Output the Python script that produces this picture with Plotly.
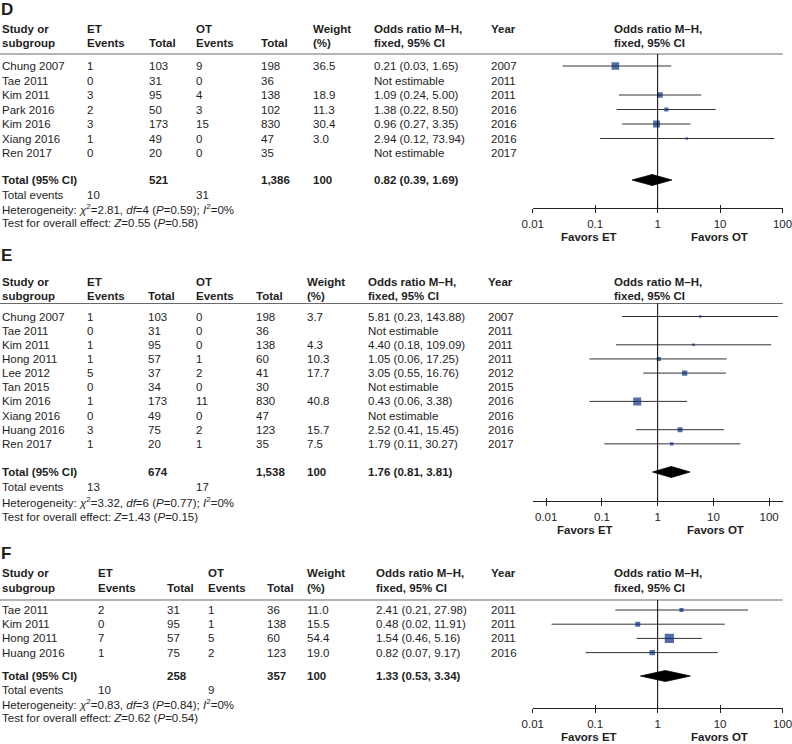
import math
import plotly.graph_objects as go

W, H = 792, 744

# ---------------- Panel D data ----------------
D_study = ["Chung 2007", "Tae 2011", "Kim 2011", "Park 2016", "Kim 2016", "Xiang 2016", "Ren 2017"]
D_et_ev = [1, 0, 3, 2, 3, 1, 0]
D_et_n = [103, 31, 95, 50, 173, 49, 20]
D_ot_ev = [9, 0, 4, 3, 15, 0, 0]
D_ot_n = [198, 36, 138, 102, 830, 47, 35]
D_weight = [36.5, None, 18.9, 11.3, 30.4, 3.0, None]
D_or = [0.21, None, 1.09, 1.38, 0.96, 2.94, None]
D_lo = [0.03, None, 0.24, 0.22, 0.27, 0.12, None]
D_hi = [1.65, None, 5.00, 8.50, 3.35, 73.94, None]
D_year = [2007, 2011, 2011, 2016, 2016, 2016, 2017]
D_total = [521, 1386, 100, 0.82, 0.39, 1.69]      # ET n, OT n, weight, OR, lo, hi
D_events = [10, 31]
D_het = [2.81, 4, 0.59, 0]                         # chi2, df, P, I2
D_effect = [0.55, 0.58]                            # Z, P

# ---------------- Panel E data ----------------
E_study = ["Chung 2007", "Tae 2011", "Kim 2011", "Hong 2011", "Lee 2012", "Tan 2015",
           "Kim 2016", "Xiang 2016", "Huang 2016", "Ren 2017"]
E_et_ev = [1, 0, 1, 1, 5, 0, 1, 0, 3, 1]
E_et_n = [103, 31, 95, 57, 37, 34, 173, 49, 75, 20]
E_ot_ev = [0, 0, 0, 1, 2, 0, 11, 0, 2, 1]
E_ot_n = [198, 36, 138, 60, 41, 30, 830, 47, 123, 35]
E_weight = [3.7, None, 4.3, 10.3, 17.7, None, 40.8, None, 15.7, 7.5]
E_or = [5.81, None, 4.40, 1.05, 3.05, None, 0.43, None, 2.52, 1.79]
E_lo = [0.23, None, 0.18, 0.06, 0.55, None, 0.06, None, 0.41, 0.11]
E_hi = [143.88, None, 109.09, 17.25, 16.76, None, 3.38, None, 15.45, 30.27]
E_year = [2007, 2011, 2011, 2011, 2012, 2015, 2016, 2016, 2016, 2017]
E_total = [674, 1538, 100, 1.76, 0.81, 3.81]
E_events = [13, 17]
E_het = [3.32, 6, 0.77, 0]
E_effect = [1.43, 0.15]

# ---------------- Panel F data ----------------
F_study = ["Tae 2011", "Kim 2011", "Hong 2011", "Huang 2016"]
F_et_ev = [2, 0, 7, 1]
F_et_n = [31, 95, 57, 75]
F_ot_ev = [1, 1, 5, 2]
F_ot_n = [36, 138, 60, 123]
F_weight = [11.0, 15.5, 54.4, 19.0]
F_or = [2.41, 0.48, 1.54, 0.82]
F_lo = [0.21, 0.02, 0.46, 0.07]
F_hi = [27.98, 11.91, 5.16, 9.17]
F_year = [2011, 2011, 2011, 2016]
F_total = [258, 357, 100, 1.33, 0.53, 3.34]
F_events = [10, 9]
F_het = [0.83, 3, 0.84, 0]
F_effect = [0.62, 0.54]

TICK_VALS = [0.01, 0.1, 1, 10, 100]
TICK_TEXT = ["0.01", "0.1", "1", "10", "100"]

FONT = "Liberation Sans, Arial, Helvetica, sans-serif"
FS = 11.5
TXT = "#1e1e1e"
SQ = "#0a2f85"
CI_COL = "#333333"

panels = [
    dict(name="D", study=D_study, et_ev=D_et_ev, et_n=D_et_n, ot_ev=D_ot_ev, ot_n=D_ot_n,
         w=D_weight, orr=D_or, lo=D_lo, hi=D_hi, year=D_year, total=D_total,
         events=D_events, het=D_het, eff=D_effect,
         lay=dict(label=9, h1=29, h2=43, rule=54, row0=66, step=14.5, tot=180, ev=195,
                  het=209, test=223, axis=208, fav=237, fav_x=(589, 719),
                  cols=[1, 86, 148, 195, 260, 312, 373, 490], phdr=613, rng=2.0,
                  xa="x", xb="x4")),
    dict(name="E", study=E_study, et_ev=E_et_ev, et_n=E_et_n, ot_ev=E_ot_ev, ot_n=E_ot_n,
         w=E_weight, orr=E_or, lo=E_lo, hi=E_hi, year=E_year, total=E_total,
         events=E_events, het=E_het, eff=E_effect,
         lay=dict(label=255, h1=282, h2=295.5, rule=303.5, row0=316.5, step=14.15, tot=472,
                  ev=487, het=502, test=517, axis=501, fav=530, fav_x=(585, 715),
                  cols=[1, 86, 147, 195, 255, 306, 367, 487], phdr=613, rng=2.24,
                  xa="x2", xb="x5")),
    dict(name="F", study=F_study, et_ev=F_et_ev, et_n=F_et_n, ot_ev=F_ot_ev, ot_n=F_ot_n,
         w=F_weight, orr=F_or, lo=F_lo, hi=F_hi, year=F_year, total=F_total,
         events=F_events, het=F_het, eff=F_effect,
         lay=dict(label=553, h1=573, h2=588, rule=600, row0=610, step=14.2, tot=676,
                  ev=690, het=704, test=718, axis=708, fav=737, fav_x=(589, 719),
                  cols=[1, 97, 166, 207, 266, 306, 375, 490], phdr=613, rng=2.0,
                  xa="x3", xb="x6")),
]

fig = go.Figure()
ann = []
shapes = []


def text(x, y, s, bold=False, size=FS, xanchor="left"):
    if bold:
        s = f"<b>{s}</b>"
    ann.append(dict(x=x / W, y=y, xref="paper", yref="y", text=s, showarrow=False,
                    xanchor=xanchor, yanchor="middle", borderpad=0,
                    font=dict(family=FONT, size=size, color=TXT)))


def fmt_or(o, l, h):
    if o is None:
        return "Not estimable"
    return f"{o:.2f} ({l:.2f}, {h:.2f})"


AX_X0, AX_X1 = 532.6, 782.7

for p in panels:
    L = p["lay"]
    c = L["cols"]
    text(0, L["label"], p["name"], bold=True, size=17)
    text(c[0], L["h1"], "Study or", bold=True)
    text(c[0], L["h2"], "subgroup", bold=True)
    text(c[1], L["h1"], "ET", bold=True)
    text(c[1], L["h2"], "Events", bold=True)
    text(c[2], L["h2"], "Total", bold=True)
    text(c[3], L["h1"], "OT", bold=True)
    text(c[3], L["h2"], "Events", bold=True)
    text(c[4], L["h2"], "Total", bold=True)
    text(c[5], L["h1"], "Weight", bold=True)
    text(c[5], L["h2"], "(%)", bold=True)
    text(c[6], L["h1"], "Odds ratio M–H,", bold=True)
    text(c[6], L["h2"], "fixed, 95% CI", bold=True)
    text(c[7], L["h1"], "Year", bold=True)
    text(L["phdr"], L["h1"], "Odds ratio M–H,", bold=True)
    text(L["phdr"], L["h2"], "fixed, 95% CI", bold=True)
    shapes.append(dict(type="line", xref="paper", yref="y", x0=0, x1=AX_X1 / W,
                       y0=L["rule"], y1=L["rule"], line=dict(color="#6a6a6a", width=1.2)))

    rows_y = [L["row0"] + i * L["step"] for i in range(len(p["study"]))]
    for i, y in enumerate(rows_y):
        text(c[0], y, p["study"][i])
        text(c[1], y, str(p["et_ev"][i]))
        text(c[2], y, str(p["et_n"][i]))
        text(c[3], y, str(p["ot_ev"][i]))
        text(c[4], y, str(p["ot_n"][i]))
        if p["w"][i] is not None:
            text(c[5], y, f"{p['w'][i]:.1f}")
        text(c[6], y, fmt_or(p["orr"][i], p["lo"][i], p["hi"][i]))
        text(c[7], y, str(p["year"][i]))

    t = p["total"]
    text(c[0], L["tot"], "Total (95% CI)", bold=True)
    text(c[2], L["tot"], f"{t[0]:,}", bold=True)
    text(c[4], L["tot"], f"{t[1]:,}", bold=True)
    text(c[5], L["tot"], f"{t[2]}", bold=True)
    text(c[6], L["tot"], fmt_or(t[3], t[4], t[5]), bold=True)
    text(c[0], L["ev"], "Total events")
    text(c[1], L["ev"], str(p["events"][0]))
    text(c[3], L["ev"], str(p["events"][1]))
    h = p["het"]
    text(c[0], L["het"],
         f"Heterogeneity: <i>χ</i><sup>2</sup>={h[0]:.2f}, <i>df</i>={h[1]} "
         f"(<i>P</i>={h[2]:.2f}); <i>I</i><sup>2</sup>={h[3]}%")
    e = p["eff"]
    text(c[0], L["test"], f"Test for overall effect: <i>Z</i>={e[0]:.2f} (<i>P</i>={e[1]:.2f})")

    text(L["fav_x"][0], L["fav"], "Favors ET", bold=True, xanchor="center")
    text(L["fav_x"][1], L["fav"], "Favors OT", bold=True, xanchor="center")

    cx, cy = [], []
    sx, sy, ss = [], [], []
    for i, y in enumerate(rows_y):
        if p["orr"][i] is None:
            continue
        cx += [p["lo"][i], p["hi"][i], None]
        cy += [y, y, None]
        sx.append(p["orr"][i])
        sy.append(y)
        ss.append(max(2.5, 1.25 * math.sqrt(p["w"][i])))
    fig.add_trace(go.Scatter(x=cx, y=cy, mode="lines", xaxis=L["xa"], yaxis="y",
                             line=dict(color=CI_COL, width=1), hoverinfo="skip",
                             showlegend=False))
    fig.add_trace(go.Scatter(x=sx, y=sy, mode="markers", xaxis=L["xa"], yaxis="y",
                             marker=dict(symbol="square", size=ss, color=SQ,
                                         line=dict(width=0)),
                             hoverinfo="skip", showlegend=False))
    dh = 5.5
    ty = L["tot"]
    fig.add_trace(go.Scatter(x=[t[4], t[3], t[5], t[3], t[4]],
                             y=[ty, ty - dh, ty, ty + dh, ty],
                             mode="lines", fill="toself", fillcolor="black",
                             line=dict(color="black", width=0.8),
                             xaxis=L["xb"], yaxis="y", hoverinfo="skip",
                             showlegend=False))
    shapes.append(dict(type="line", xref=L["xa"], yref="y", x0=1, x1=1,
                       y0=L["rule"], y1=L["axis"], line=dict(color="black", width=1)))


def xaxis_def(rng, pos, main, overlay):
    r = rng + 0.003
    d = dict(type="log", range=[-r, r], domain=[AX_X0 / W, AX_X1 / W],
             anchor="free", position=1 - pos / H, showgrid=False, zeroline=False,
             automargin=False, ticklabeloverflow="allow",
             tickvals=TICK_VALS, ticktext=TICK_TEXT, tickwidth=1, tickcolor="#222",
             tickfont=dict(family=FONT, size=FS, color=TXT), fixedrange=True)
    if main:
        d.update(showline=True, linecolor="#222", linewidth=1, ticks="outside",
                 ticklen=4, showticklabels=True, ticklabelstandoff=1)
    else:
        d.update(showline=False, ticks="inside", ticklen=3, showticklabels=False)
    if overlay:
        d["overlaying"] = "x"
    return d


lay = dict(template="none", width=W, height=H,
           margin=dict(l=0, r=0, t=0, b=0, pad=0, autoexpand=False), autosize=False,
           paper_bgcolor="white", plot_bgcolor="rgba(0,0,0,0)", showlegend=False,
           yaxis=dict(domain=[0, 1], range=[H, 0], visible=False, fixedrange=True,
                      automargin=False),
           annotations=ann, shapes=shapes)
for k, p in enumerate(panels):
    L = p["lay"]
    na = "xaxis" if k == 0 else f"xaxis{k + 1}"
    lay[na] = xaxis_def(L["rng"], L["axis"], True, k != 0)
    lay[f"xaxis{k + 4}"] = xaxis_def(L["rng"], L["axis"], False, True)

fig.update_layout(**lay)
fig.write_html("out.html", config={"staticPlot": True},
               post_script="document.body.style.margin='0px';"
                           "document.body.style.padding='0px';"
                           "document.body.style.overflow='hidden';")
